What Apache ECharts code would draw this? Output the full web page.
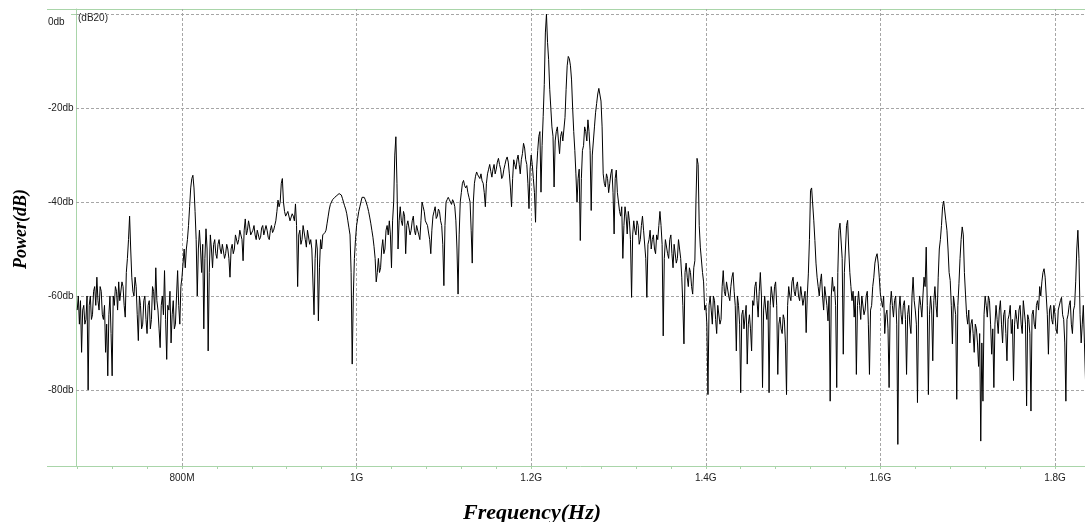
<!DOCTYPE html>
<html>
<head>
<meta charset="utf-8">
<title>Spectrum</title>
<script src="https://cdn.jsdelivr.net/npm/echarts/dist/echarts.min.js"></script>
<style>
  html, body { margin: 0; padding: 0; background: #fff; }
  #chart { width: 1085px; height: 522px; }
</style>
</head>
<body>
<div id="chart"></div>
<script>
// Sweep settings (MHz)
const F_START = 680;
const F_STEP = 1.25;

// Measured power per sweep point (dB), 20 points per 25 MHz row
const powerDb = [
  -63, -60, -66, -61, -72, -63, -62, -66, -65, -60, -80, -62, -60, -65, -64, -59, -58, -62, -56, -61,
  -63, -58, -59, -64, -65, -62, -72, -66, -77, -64, -60, -68, -77, -60, -62, -58, -59, -63, -57, -61,
  -61, -57, -58, -62, -64.5, -55, -52, -48, -43, -50, -56, -59, -60, -56, -58, -64, -69.5, -60, -62, -67,
  -66, -61, -60, -65, -68, -62, -61, -67, -65, -58, -59, -63, -54, -61, -63, -67, -71, -62, -60, -64,
  -54.6, -65, -73.5, -62, -63, -59, -70, -64, -61, -67, -66, -60, -54.6, -62, -66, -58, -56, -53, -50, -54,
  -50, -48, -45, -41, -37, -35, -34.3, -37, -42, -48, -60, -50, -46, -50, -55, -49, -67, -52, -45.7, -50,
  -71.7, -55, -47, -50, -54, -49, -48, -51, -52, -49, -48, -50, -51, -49, -49, -52, -51, -49, -50, -52,
  -56, -50, -49, -51, -50, -47, -47, -49, -48, -46, -46, -48, -52.5, -46, -43.6, -47, -46, -44, -45.3, -47,
  -47, -46, -45, -47, -48, -46, -46, -48, -47.5, -45.5, -45, -47, -47, -45, -46, -47.5, -48, -46, -45, -46.5,
  -46, -45, -44, -42, -39.6, -41, -40, -36, -35, -40, -42, -43, -43, -42, -42, -44, -44, -42.5, -43, -44,
  -40.4, -45, -58, -47, -46, -49, -48, -45, -45, -48, -49.6, -46, -46, -49, -48, -50, -50, -64, -52, -48,
  -50, -65.3, -54, -48, -50, -47, -47, -46.5, -46, -44.5, -43, -41.5, -40.5, -40, -39.5, -39.2, -39, -38.8, -38.6, -38.4,
  -38.2, -38.2, -38.5, -39.2, -40, -40.8, -41.5, -42.5, -44, -45.5, -47, -55, -74.5, -60, -52, -48, -45, -43.5, -42, -41,
  -40, -39, -38.6, -39, -39.5, -40.2, -41, -42, -43.2, -44.5, -46, -47.5, -49.5, -52, -57, -55, -52, -55, -54, -50,
  -48, -51, -50, -46, -45, -47, -44, -47, -54, -44, -40, -30, -26.1, -36, -50, -44, -41, -44, -45, -42,
  -43, -51, -45, -44, -44, -47, -46, -44, -43, -46, -47, -45, -45, -47, -48, -44, -40, -41, -42, -44,
  -44, -45, -46.6, -48, -51, -46, -43, -42, -41, -43.5, -43, -41.5, -42, -44, -45, -49, -57.8, -45, -40, -39.5,
  -39, -39.5, -40, -40.5, -39.5, -40, -41, -44, -50, -59.6, -47, -40, -38, -36, -35.4, -36.5, -37, -36.5, -38, -39,
  -40, -46, -53, -40, -36, -34.5, -33.6, -34.2, -34.5, -35, -34, -35.5, -36, -38, -41, -36, -34, -33, -32, -33.5,
  -34.7, -33, -32, -34, -33, -31.5, -30.7, -32, -33, -35, -34.5, -33, -32, -31, -30.4, -31.5, -34, -37, -41, -35,
  -31, -32, -33, -31, -30, -32, -34, -31, -29.7, -27.5, -28.5, -31, -32, -36, -41.4, -33, -30, -32, -35, -38,
  -44.3, -33, -29, -26, -25, -37.9, -28, -21.8, -15, -4, 0, -6, -9.7, -16, -20, -24, -26, -36.8, -27, -25,
  -24, -27, -29.7, -26, -25, -27, -27, -22, -16, -11, -9, -9.5, -11, -14, -20, -25, -29, -34, -40, -35,
  -33, -48.2, -35, -29, -28, -24, -25, -27, -22.5, -25, -29, -41.8, -30, -27, -24, -21, -19, -17, -15.8, -16,
  -18.5, -24, -34, -36, -36.8, -34, -35, -38, -36, -34, -33, -38, -46.8, -35, -33.2, -38, -40, -42, -43, -41,
  -52, -45, -41, -43, -46.8, -42, -44, -48, -60.3, -47, -44, -46, -47, -44, -45, -49, -48, -45, -43, -46,
  -46, -52, -60.3, -49, -48, -46, -50, -48, -47, -50, -51, -47, -48, -45, -42, -45, -49, -68.5, -52, -48,
  -48, -51, -52, -48, -47, -51, -54, -49, -49, -53, -52, -48, -48, -52, -56, -62, -70.2, -55, -53, -56,
  -58, -54, -55, -58, -59.6, -54, -52.5, -40, -30.7, -32, -45, -49.6, -49.6, -55, -57, -63, -62, -66, -81, -62,
  -60, -63, -66, -60, -61, -65, -68, -62, -62, -66, -65, -58, -54.6, -59, -60, -57, -57, -60, -61, -58,
  -56, -55, -59, -62, -71.7, -60, -62, -66, -80.6, -64, -63, -67, -67, -62, -74.5, -66, -64, -67, -71.7, -61,
  -62, -58, -57, -61, -64.5, -59, -55, -60, -79.5, -63, -60, -63, -65, -61, -80.6, -62, -58, -60, -62.4, -58,
  -57, -62, -76.7, -66, -64.5, -67, -68, -64, -65, -70, -81, -62, -58, -60, -61, -57, -56, -59, -60, -58,
  -57, -60, -61, -58, -58, -62, -62, -59, -67.8, -60, -55.3, -48, -37.5, -37, -37.2, -44, -48.2, -53, -56, -58,
  -60, -57, -55.3, -60, -63, -58, -58, -62, -65.3, -60, -82.4, -60, -56, -59, -58, -62, -79.5, -55, -46, -44.5,
  -44.3, -52, -72.4, -55, -50, -45, -43.9, -50, -55, -58, -61, -59, -64.5, -60, -76.7, -62, -59, -62, -65, -60,
  -60, -64, -63, -60, -59, -66, -76.7, -63, -62, -58, -56, -53, -51.7, -51, -53, -56, -59.6, -61, -62.4, -60,
  -68, -64, -63, -67, -79.5, -62, -59, -62, -64.5, -61, -60, -66, -91.6, -63, -60, -64, -66, -62, -61, -65,
  -76.7, -64, -62, -66, -68, -60, -56, -61, -63, -66, -82.7, -63, -60, -62, -64.5, -60, -56, -58, -49.6, -62,
  -81, -64, -60, -63, -73.8, -61, -58, -62, -64.5, -56, -50, -48, -45, -41, -39.8, -40, -44, -46, -50, -55,
  -56.7, -62, -70.2, -60, -60, -64, -82, -62, -57.4, -52, -48, -45.3, -47, -55, -59.6, -64, -66, -63, -70, -66,
  -65, -68, -72, -66, -67, -70, -75, -68, -90.9, -70, -82.4, -64, -60, -62, -64.5, -60, -61, -66, -72.4, -67,
  -79.5, -66, -62, -65, -68, -63, -61, -66, -70, -64, -63, -68, -73.8, -65, -64, -62, -68, -65, -78, -66,
  -63, -65, -67, -63, -62, -66, -68, -61, -61, -66, -83.4, -64, -65, -68, -84.5, -64, -63, -66, -67, -62,
  -61, -63, -58, -60, -57, -55, -54.2, -56, -60, -64, -72.4, -63, -62, -65, -66, -62, -64, -67, -68, -63,
  -63, -61, -60.3, -64, -65, -70, -82.4, -65, -64, -62, -61, -66, -68, -63, -62, -57, -50, -46, -52, -64,
  -70, -66, -62, -70, -78
];

// Axis ticks, grid lines and labels
const freqTickMHz = [680, 720, 760, 800, 840, 880, 920, 960, 1000, 1040, 1080, 1120, 1160, 1200,
  1240, 1280, 1320, 1360, 1400, 1440, 1480, 1520, 1560, 1600, 1640, 1680, 1720, 1760, 1800];
const freqGridMHz = [800, 1000, 1200, 1400, 1600, 1800];
const freqGridLabels = ['800M', '1G', '1.2G', '1.4G', '1.6G', '1.8G'];
const powerGridDb = [0, -20, -40, -60, -80];
const powerGridLabels = ['0db', '-20db', '-40db', '-60db', '-80db'];

const GREEN = '#a9d5a9';
const GRID_GRAY = '#a6a6a6';
const LABEL_FONT = 'Liberation Sans';
const X_MIN = 678.6, X_MAX = 1834.4;
const Y_MIN = -96.2, Y_MAX = 1.1;

const sweep = powerDb.map((p, i) => [F_START + i * F_STEP, p]);

const chart = echarts.init(document.getElementById('chart'), null, { renderer: 'canvas' });

chart.setOption({
  animation: false,
  backgroundColor: '#ffffff',
  grid: { left: 76, right: 0, top: 9, bottom: 56, containLabel: false },
  xAxis: [
    {
      type: 'value',
      position: 'bottom',
      min: X_MIN,
      max: X_MAX,
      axisLine: { show: true, onZero: false, lineStyle: { color: GREEN, width: 1 } },
      axisTick: { show: true, inside: false, length: 3, customValues: freqTickMHz,
                  lineStyle: { color: GREEN, width: 1 } },
      axisLabel: {
        show: true,
        customValues: freqGridMHz,
        formatter: v => freqGridLabels[freqGridMHz.indexOf(v)] || '',
        color: '#222', fontSize: 10, fontFamily: LABEL_FONT, margin: 7
      },
      splitLine: { show: false }
    },
    {
      type: 'value',
      position: 'top',
      min: X_MIN,
      max: X_MAX,
      axisLine: { show: true, onZero: false, lineStyle: { color: GREEN, width: 1 } },
      axisTick: { show: false },
      axisLabel: { show: false },
      splitLine: { show: false }
    }
  ],
  yAxis: {
    type: 'value',
    min: Y_MIN,
    max: Y_MAX,
    axisLine: { show: true, onZero: false, lineStyle: { color: GREEN, width: 1 } },
    axisTick: { show: true, length: 5, customValues: [0], lineStyle: { color: GREEN } },
    axisLabel: {
      show: true,
      customValues: powerGridDb,
      align: 'left',
      margin: 28,
      color: '#222', fontSize: 10, fontFamily: LABEL_FONT,
      formatter: v => {
        const t = powerGridLabels[powerGridDb.indexOf(v)] || '';
        return v === 0 ? '{top|' + t + '}' : t;
      },
      rich: { top: { padding: [16, 0, 0, 0], fontSize: 10, fontFamily: LABEL_FONT, color: '#222' } }
    },
    splitLine: { show: false }
  },
  series: [{
    type: 'line',
    xAxisIndex: 0,
    data: sweep,
    showSymbol: false,
    symbol: 'none',
    z: 3,
    lineStyle: { color: '#000', width: 1 },
    markLine: {
      silent: true,
      z: 1,
      symbol: ['none', 'none'],
      label: { show: false },
      lineStyle: { color: GRID_GRAY, type: [3, 2], width: 1 },
      emphasis: { disabled: true },
      data: [
        ...freqGridMHz.map(v => ({ xAxis: v })),
        ...powerGridDb.map(v => ({ yAxis: v }))
      ]
    }
  }],
  graphic: [
    // frame lines running left of the plot
    { type: 'line', silent: true, shape: { x1: 47, y1: 9.5, x2: 76, y2: 9.5 },
      style: { stroke: GREEN, lineWidth: 1 } },
    { type: 'line', silent: true, shape: { x1: 47, y1: 466.5, x2: 76, y2: 466.5 },
      style: { stroke: GREEN, lineWidth: 1 } },
    { type: 'text', silent: true, x: 78, y: 13,
      style: { text: '(dB20)', font: '10px "Liberation Sans"', fill: '#222' } },
    { type: 'text', silent: true, x: 532, y: 513,
      style: { text: 'Frequency(Hz)', font: 'italic bold 22px "Liberation Serif"', fill: '#000',
               align: 'center', verticalAlign: 'middle' } },
    { type: 'text', silent: true, x: 21, y: 229, rotation: Math.PI / 2,
      style: { text: 'Power(dB)', font: 'italic bold 18px "Liberation Serif"', fill: '#000',
               align: 'center', verticalAlign: 'middle' } }
  ]
});
</script>
</body>
</html>
